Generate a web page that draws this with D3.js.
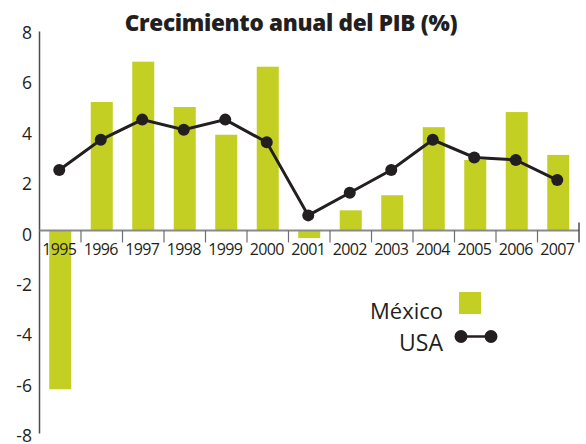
<!DOCTYPE html>
<html>
<head>
<meta charset="utf-8">
<script src="https://cdn.jsdelivr.net/npm/d3@7"></script>
<style>
  body { margin: 0; background: #fff; }
  svg text { font-family: "Open Sans", sans-serif; fill: #231f20; }
</style>
</head>
<body>
<svg id="chart" width="586" height="444"></svg>
<script>
const years = ["1995", "1996", "1997", "1998", "1999", "2000", "2001", "2002", "2003", "2004", "2005", "2006", "2007"];
const mexico = [-6.3, 5.1, 6.7, 4.9, 3.8, 6.5, -0.3, 0.8, 1.4, 4.1, 2.8, 4.7, 3.0];
const usa = [2.4, 3.6, 4.4, 4.0, 4.4, 3.5, 0.6, 1.5, 2.4, 3.6, 2.9, 2.8, 2.0];
const yTicks = [8, 6, 4, 2, 0, -2, -4, -6, -8];

const green = "#c3cf22", dark = "#231f20";

const svg = d3.select("#chart");

const x = d3.scaleBand()
  .domain(years)
  .range([39.5, 579])
  .padding(0);

const y = d3.scaleLinear()
  .domain([-8, 8])
  .range([432.1, 28.9]);

// title
svg.append("text")
  .attr("x", 291)
  .attr("y", 31)
  .attr("text-anchor", "middle")
  .style("font-size", "22.5px")
  .style("font-weight", "800")
  .style("letter-spacing", "-0.3px")
  .text("Crecimiento anual del PIB (%)");

// bars
svg.selectAll(".bar")
  .data(years)
  .join("rect")
  .attr("class", "bar")
  .attr("x", (d, i) => x(d) + x.bandwidth() / 2 - 11)
  .attr("width", 22)
  .attr("y", (d, i) => y(Math.max(0, mexico[i])))
  .attr("height", (d, i) => Math.abs(y(mexico[i]) - y(0)))
  .attr("fill", green);

// y axis
svg.append("line")
  .attr("x1", 39.5).attr("x2", 39.5)
  .attr("y1", 31.5).attr("y2", 433.5)
  .attr("stroke", "#4d4d4f").attr("stroke-width", 1.5);

svg.selectAll(".ylab")
  .data(yTicks)
  .join("text")
  .attr("class", "ylab")
  .attr("x", 32)
  .attr("y", d => y(d) + 10)
  .attr("text-anchor", "end")
  .style("font-size", "17.5px")
  .text(d => d);

// x axis at zero
const xAxis = svg.append("g")
  .attr("transform", `translate(0,${y(0)})`);

xAxis.append("line")
  .attr("x1", 39.5).attr("x2", 579)
  .attr("stroke", "#8a8a8c").attr("stroke-width", 2);

xAxis.selectAll(".tick")
  .data(years.slice(1))
  .join("line")
  .attr("class", "tick")
  .attr("x1", d => x(d)).attr("x2", d => x(d))
  .attr("y1", 0).attr("y2", 12)
  .attr("stroke", "#6d6e70").attr("stroke-width", 1.2);

xAxis.append("line")
  .attr("x1", 579).attr("x2", 579)
  .attr("y1", -8).attr("y2", 12)
  .attr("stroke", "#4d4d4f").attr("stroke-width", 1.5);

xAxis.selectAll(".xlab")
  .data(years)
  .join("text")
  .attr("class", "xlab")
  .attr("x", d => x(d) + x.bandwidth() / 2 - 1)
  .attr("y", 24.5)
  .attr("text-anchor", "middle")
  .style("font-size", "16px")
  .style("letter-spacing", "-0.6px")
  .text(d => d);

// USA line
const line = d3.line()
  .x((d, i) => x(years[i]) + x.bandwidth() / 2 - 1)
  .y(d => y(d));

svg.append("path")
  .datum(usa)
  .attr("d", line)
  .attr("fill", "none")
  .attr("stroke", dark)
  .attr("stroke-width", 3);

svg.selectAll(".dot")
  .data(usa)
  .join("circle")
  .attr("class", "dot")
  .attr("cx", (d, i) => x(years[i]) + x.bandwidth() / 2 - 1)
  .attr("cy", d => y(d))
  .attr("r", 6)
  .attr("fill", dark);

// legend
const legend = svg.append("g");
legend.append("text")
  .attr("x", 443).attr("y", 319)
  .attr("text-anchor", "end")
  .style("font-size", "22px")
  .text("México");
legend.append("rect")
  .attr("x", 459).attr("y", 292)
  .attr("width", 22).attr("height", 22)
  .attr("fill", green);
legend.append("text")
  .attr("x", 443).attr("y", 351)
  .attr("text-anchor", "end")
  .style("font-size", "23px")
  .text("USA");
legend.append("line")
  .attr("x1", 461).attr("x2", 491)
  .attr("y1", 336.5).attr("y2", 336.5)
  .attr("stroke", dark).attr("stroke-width", 2.5);
legend.selectAll(".ldot")
  .data([461, 491])
  .join("circle")
  .attr("class", "ldot")
  .attr("cx", d => d).attr("cy", 336.5)
  .attr("r", 6.5)
  .attr("fill", dark);
</script>
</body>
</html>
